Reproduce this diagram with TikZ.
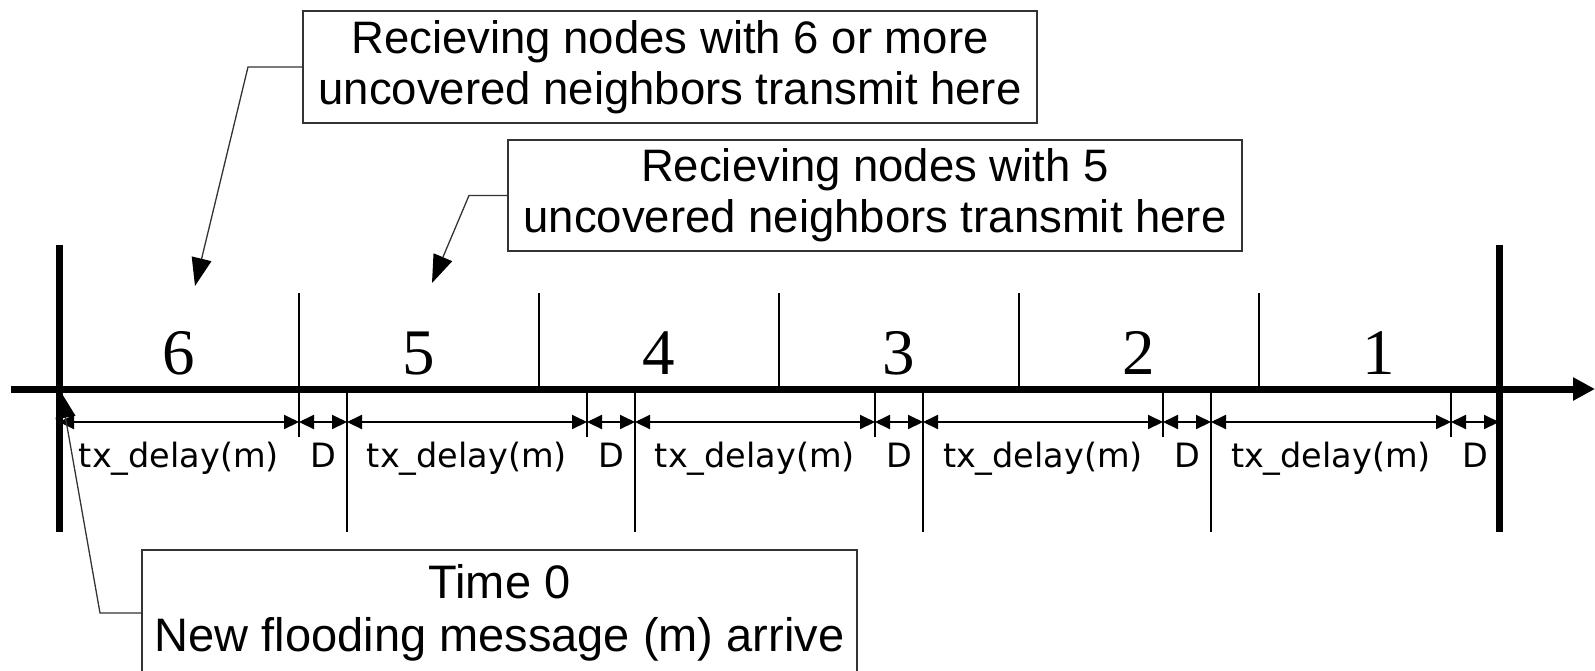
\documentclass[tikz,border=0pt]{standalone}
\usepackage{fontspec}
\setmainfont{Liberation Sans}
\newfontfamily\numfont{Liberation Serif}
\newfontfamily\dimfont{DejaVu Sans}
\usetikzlibrary{arrows.meta}
\definecolor{edge}{HTML}{333333}
\begin{document}
\begin{tikzpicture}[x=1pt,y=-1pt,
  callout/.style={draw=edge, line width=1.5pt, fill=white, inner sep=0pt,
    align=center, font=\fontsize{45.5}{51}\selectfont},
  leader/.style={draw=edge, line width=1.3pt, -{Triangle[length=28pt,width=20pt,color=black]}},
  axisline/.style={line width=7pt},
  tickline/.style={line width=2pt},
  dimline/.style={line width=2pt, {Triangle[length=15pt,width=14pt]}-{Triangle[length=15pt,width=14pt]}},
  dimlabel/.style={anchor=base, inner sep=0pt, font=\dimfont\fontsize{33.5}{36}\selectfont},
  slotlabel/.style={anchor=base, inner sep=0pt, font=\numfont\fontsize{65}{70}\selectfont}
]
\clip (0,0) rectangle (1595,670);

% time axis and its two bounding bars
\coordinate (axL) at (11,389);
\coordinate (axR) at (1595,389);
\draw[axisline, -{Triangle[length=22pt,width=22pt]}] (axL) -- (axR);
\coordinate (barLt) at (59,245);  \coordinate (barLb) at (59,532);
\coordinate (barRt) at (1499,245); \coordinate (barRb) at (1499,532);
\draw[axisline] (barLt) -- (barLb);
\draw[axisline] (barRt) -- (barRb);

% slot boundaries above the axis and slot numbers
\foreach \j in {1,...,5} {
  \coordinate (slotT\j) at (59+240*\j,293);
  \coordinate (slotB\j) at (59+240*\j,389);
  \draw[tickline] (slotT\j) -- (slotB\j);
}
\foreach \j/\n in {0/6,1/5,2/4,3/3,4/2,5/1} {
  \node[slotlabel] (num\n) at (179+240*\j,374) {\n};
}

% delay periods below the axis: tx_delay(m) followed by D
\foreach \k in {0,...,4} {
  \coordinate (s\k) at (59+288*\k,422);
  \coordinate (m\k) at (299+288*\k,422);
  \coordinate (e\k) at (347+288*\k,422);
  \coordinate (mt\k) at (299+288*\k,389);
  \coordinate (mb\k) at (299+288*\k,437);
  \draw[tickline] (mt\k) -- (mb\k);
  \draw[dimline] (s\k) -- (m\k);
  \draw[dimline] (m\k) -- (e\k);
  \node[dimlabel] (tx\k) at (179+288*\k,467) {tx\_delay(m)};
  \node[dimlabel] (d\k) at (323+288*\k,467) {D};
}
\foreach \k in {0,...,3} {
  \coordinate (divT\k) at (347+288*\k,389);
  \coordinate (divB\k) at (347+288*\k,532);
  \draw[tickline] (divT\k) -- (divB\k);
}

% callouts
\node[callout, minimum width=734pt, minimum height=112pt] (box6) at (670,67)
  {Recieving nodes with 6 or more\\uncovered neighbors transmit here};
\node[callout, minimum width=734pt, minimum height=111pt] (box5) at (875,195.5)
  {Recieving nodes with 5\\uncovered neighbors transmit here};
\node[callout, minimum width=715pt, minimum height=126pt,
  font=\fontsize{47}{53}\selectfont] (box0) at (499.5,613)
  {Time 0\\New flooding message (m) arrive};

\coordinate (bend6) at (248,67);
\coordinate (tip6) at (195,286);
\draw[leader] (box6.west) -- (bend6) -- (tip6);
\coordinate (bend5) at (469,195.5);
\coordinate (tip5) at (432,283);
\draw[leader] (box5.west) -- (bend5) -- (tip5);
\coordinate (bend0) at (100,613);
\coordinate (tip0) at (61,392);
\draw[leader, -{Triangle[length=26pt,width=20pt,color=black]}] (box0.west) -- (bend0) -- (tip0);
\end{tikzpicture}
\end{document}
